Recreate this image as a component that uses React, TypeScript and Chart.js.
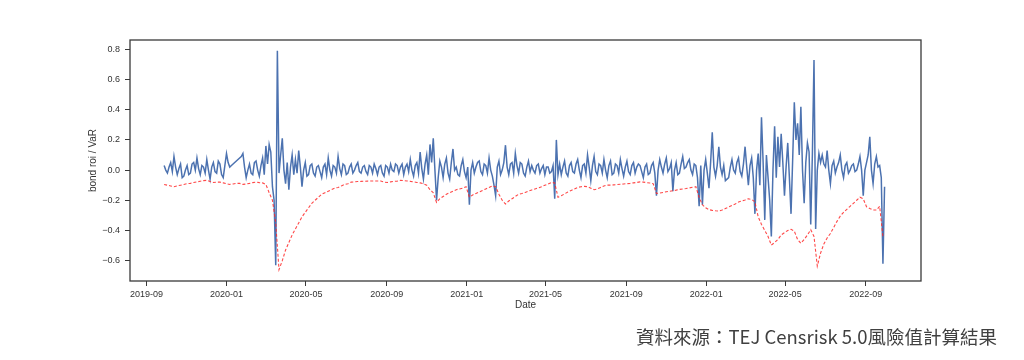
import React, { useEffect, useRef } from 'react';
import { Chart, registerables } from 'chart.js';

Chart.register(...registerables);

// ---- data ----
const startDate = '2019-09-28';
const roiStepDays = 2.5;
const varStepDays = 5;
const axisMinDate = '2019-08-07';
const axisMaxDate = '2022-11-24';
const xTickLabels = ['2019-09', '2020-01', '2020-05', '2020-09', '2021-01', '2021-05', '2021-09', '2022-01', '2022-05', '2022-09'];
const yTickValues = [-0.6, -0.4, -0.2, 0, 0.2, 0.4, 0.6, 0.8];

const bondRoi = [
  0.03, 0.0, -0.02, 0.02, 0.05, -0.01, 0.09, 0.02, -0.03, 0.01, 0.04, -0.05, -0.04, 0.0, 0.03, -0.03, -0.02, 0.04, 0.05, 0.0,
  0.08, 0.01, -0.03, 0.03, 0.02, -0.02, 0.07, 0.0, -0.06, 0.02, 0.05, -0.01, -0.02, 0.06, 0.04, -0.03, -0.05, 0.03, 0.11, 0.05,
  0.02, 0.03, 0.04, 0.05, 0.06, 0.07, 0.08, 0.09, 0.11, 0.02, -0.05, 0.0, 0.04, -0.02, -0.03, 0.05, 0.06, 0.0, -0.04, 0.03,
  0.08, -0.03, 0.16, 0.04, 0.17, 0.12, -0.11, -0.2, -0.63, 0.79, -0.02, 0.1, 0.21, 0.0, -0.09, 0.05, -0.13, 0.02, 0.1, -0.03,
  0.07, -0.02, 0.13, 0.02, -0.11, 0.0, 0.05, -0.04, -0.03, 0.03, 0.04, -0.02, -0.04, 0.02, 0.03, -0.01, -0.05, 0.02, 0.04, -0.03,
  0.08, 0.0, -0.04, 0.03, 0.02, -0.02, 0.09, 0.01, -0.03, 0.04, 0.03, -0.03, -0.02, 0.02, 0.04, -0.02, 0.0, 0.03, 0.05, -0.01,
  -0.02, 0.02, 0.03, -0.01, -0.03, 0.03, 0.02, -0.02, 0.04, 0.01, -0.03, 0.02, 0.03, -0.02, -0.04, 0.03, 0.02, -0.02, 0.04, 0.0,
  -0.01, 0.04, 0.03, -0.02, 0.02, 0.04, -0.03, 0.02, 0.04, -0.01, 0.07, 0.0, -0.04, 0.03, 0.05, -0.02, 0.12, 0.01, -0.06, 0.04,
  0.1, -0.03, 0.17, 0.05, 0.21, 0.0, -0.2, -0.05, 0.06, 0.02, -0.05, 0.04, 0.08, -0.02, -0.06, 0.05, 0.14, 0.0, 0.02, -0.03,
  -0.04, 0.03, 0.07, -0.01, -0.05, 0.02, -0.23, 0.0, 0.05, -0.02, 0.02, 0.05, 0.06, -0.01, -0.03, 0.04, 0.03, -0.02, 0.08, 0.0,
  -0.04, -0.1, -0.17, 0.02, 0.06, -0.03, 0.0, 0.05, 0.165, 0.02, -0.03, 0.04, 0.05, -0.02, 0.11, 0.03, -0.02, 0.05, 0.04, -0.02,
  -0.04, 0.02, 0.06, -0.01, 0.03, 0.0, -0.02, 0.03, 0.04, -0.02, 0.01, 0.03, -0.03, 0.02, 0.02, -0.02, -0.01, 0.03, -0.19, 0.2,
  -0.03, 0.04, -0.03, 0.02, 0.06, -0.02, -0.04, 0.03, 0.05, -0.01, -0.02, 0.04, 0.07, 0.0, -0.05, 0.03, 0.04, -0.02, 0.1, 0.02,
  -0.07, 0.03, 0.09, -0.01, -0.03, 0.04, 0.03, -0.02, 0.07, 0.0, -0.05, 0.03, 0.06, -0.03, -0.02, 0.04, 0.03, -0.02, 0.07, 0.01,
  -0.04, 0.02, 0.06, -0.01, -0.03, 0.03, 0.05, -0.02, 0.02, 0.04, 0.03, -0.01, -0.05, 0.02, 0.04, -0.03, -0.02, 0.03, 0.05, -0.02,
  -0.17, 0.0, 0.07, 0.02, -0.02, 0.04, 0.08, -0.01, 0.01, 0.05, -0.14, 0.0, 0.05, -0.03, -0.02, 0.04, 0.09, 0.01, 0.02, 0.05,
  0.07, 0.0, -0.03, 0.04, 0.03, -0.05, -0.24, 0.03, -0.23, 0.0, 0.07, -0.02, -0.12, 0.05, 0.25, 0.02, -0.04, 0.03, 0.155, 0.02,
  -0.03, 0.03, -0.07, -0.06, -0.05, 0.02, 0.07, 0.0, -0.02, 0.05, 0.08, -0.01, -0.04, 0.04, 0.155, 0.02, -0.1, 0.03, 0.08, -0.05,
  -0.29, 0.0, 0.11, -0.1, 0.35, 0.05, -0.33, 0.1, -0.05, -0.2, -0.44, 0.0, 0.29, -0.05, 0.22, 0.02, 0.24, 0.05, -0.17, 0.02,
  0.18, -0.05, -0.29, 0.07, 0.45, 0.2, 0.31, 0.1, 0.42, 0.0, -0.22, 0.05, 0.18, 0.12, -0.36, 0.1, 0.73, -0.39, 0.0, 0.11,
  0.05, 0.1, 0.04, 0.02, 0.13, 0.0, -0.09, 0.03, 0.06, -0.02, 0.02, 0.05, 0.1, 0.0, -0.05, 0.03, 0.05, -0.02, 0.0, 0.03,
  0.04, -0.01, 0.0, 0.04, 0.09, 0.0, -0.17, 0.0, 0.05, 0.1, 0.22, 0.0, -0.09, 0.04, 0.09, 0.02, 0.03, -0.05, -0.62, -0.11,
];

const varValues = [
  -0.095, -0.1, -0.105, -0.11, -0.105, -0.1, -0.095, -0.09, -0.088, -0.082,
  -0.078, -0.074, -0.07, -0.068, -0.075, -0.082, -0.08, -0.08, -0.085, -0.09,
  -0.095, -0.092, -0.088, -0.088, -0.095, -0.092, -0.088, -0.083, -0.08, -0.083,
  -0.085, -0.095, -0.15, -0.2, -0.35, -0.66, -0.6, -0.53, -0.48, -0.43,
  -0.39, -0.35, -0.31, -0.28, -0.25, -0.22, -0.2, -0.18, -0.16, -0.15,
  -0.14, -0.13, -0.12, -0.115, -0.105, -0.095, -0.09, -0.08, -0.078, -0.076,
  -0.075, -0.074, -0.073, -0.072, -0.072, -0.072, -0.072, -0.08, -0.082, -0.078,
  -0.075, -0.073, -0.068, -0.07, -0.072, -0.075, -0.078, -0.082, -0.085, -0.09,
  -0.1, -0.13, -0.15, -0.215, -0.19, -0.175, -0.16, -0.15, -0.14, -0.13,
  -0.125, -0.12, -0.11, -0.18, -0.165, -0.155, -0.145, -0.135, -0.125, -0.115,
  -0.105, -0.11, -0.16, -0.2, -0.225, -0.205, -0.19, -0.175, -0.16, -0.155,
  -0.148, -0.14, -0.132, -0.125, -0.118, -0.11, -0.1, -0.092, -0.082, -0.085,
  -0.18, -0.17, -0.158, -0.145, -0.135, -0.125, -0.115, -0.11, -0.108, -0.11,
  -0.12, -0.13, -0.125, -0.115, -0.105, -0.1, -0.1, -0.098, -0.096, -0.094,
  -0.092, -0.09, -0.088, -0.085, -0.082, -0.078, -0.08, -0.083, -0.086, -0.09,
  -0.155, -0.152, -0.148, -0.144, -0.14, -0.137, -0.133, -0.128, -0.125, -0.122,
  -0.118, -0.114, -0.11, -0.18, -0.23, -0.25, -0.262, -0.267, -0.27, -0.272,
  -0.265, -0.255, -0.245, -0.235, -0.225, -0.212, -0.205, -0.198, -0.19, -0.195,
  -0.21, -0.31, -0.36, -0.4, -0.44, -0.497, -0.48, -0.46, -0.43, -0.415,
  -0.4, -0.393, -0.405, -0.46, -0.485, -0.46, -0.43, -0.395, -0.44, -0.636,
  -0.55, -0.49, -0.45, -0.42, -0.38, -0.34, -0.305, -0.28, -0.26, -0.24,
  -0.22, -0.2, -0.18, -0.19, -0.243, -0.255, -0.265, -0.265, -0.24, -0.44,
];

const yMin = -0.735;
const yMax = 0.862;

const captionText = '資料來源：TEJ Censrisk 5.0風險值計算結果';

// ---- helpers ----
function dayOf(s: string): number {
  const [y, m, d] = s.split('-').map(Number);
  return Date.UTC(y, m - 1, d || 1) / 86400000;
}

const framePlugin = {
  id: 'frameBox',
  afterDraw(chart: any) {
    const { ctx, chartArea } = chart;
    const { left, top, right, bottom } = chartArea;
    ctx.save();
    ctx.strokeStyle = '#3a3a3a';
    ctx.lineWidth = 1.3;
    ctx.strokeRect(left, top, right - left, bottom - top);
    ctx.restore();
  },
};

export default function App() {
  const canvasRef = useRef<HTMLCanvasElement | null>(null);

  useEffect(() => {
    if (!canvasRef.current) return;
    const start = dayOf(startDate);
    const roiPoints = bondRoi.map((v, i) => ({ x: start + i * roiStepDays, y: v }));
    const varPoints = varValues.map((v, i) => ({ x: start + i * varStepDays, y: v }));
    const tickFont = { family: '"Liberation Sans", Arial, sans-serif', size: 9 };
    const titleFont = { family: '"Liberation Sans", Arial, sans-serif', size: 10 };

    const chart = new Chart(canvasRef.current, {
      type: 'line',
      data: {
        datasets: [
          {
            label: 'bond roi',
            data: roiPoints,
            borderColor: '#4C72B0',
            borderWidth: 1.5,
            pointRadius: 0,
            tension: 0,
            order: 2,
          },
          {
            label: 'VaR',
            data: varPoints,
            borderColor: 'rgba(255, 40, 40, 0.85)',
            borderWidth: 1.1,
            borderDash: [3, 2],
            pointRadius: 0,
            tension: 0,
            order: 1,
          },
        ],
      },
      options: {
        responsive: false,
        animation: false,
        devicePixelRatio: 1,
        layout: { padding: { left: 80, right: 103, top: 40, bottom: 45 } },
        plugins: {
          legend: { display: false },
          tooltip: { enabled: false },
        },
        scales: {
          x: {
            type: 'linear',
            min: dayOf(axisMinDate),
            max: dayOf(axisMaxDate),
            afterBuildTicks: (scale: any) => {
              scale.ticks = xTickLabels.map((l) => ({ value: dayOf(l + '-01') }));
            },
            afterFit: (scale: any) => {
              scale.height = 34;
            },
            ticks: {
              autoSkip: false,
              maxRotation: 0,
              padding: 3,
              color: '#333333',
              font: tickFont,
              callback: (_v: any, i: number) => xTickLabels[i],
            },
            grid: {
              display: true,
              drawOnChartArea: false,
              drawTicks: true,
              tickLength: 5,
              color: '#3a3a3a',
              lineWidth: 1,
            },
            border: { display: false },
            title: {
              display: true,
              text: 'Date',
              color: '#333333',
              font: titleFont,
              padding: { top: 0, bottom: 4 },
            },
          },
          y: {
            type: 'linear',
            min: yMin,
            max: yMax,
            afterBuildTicks: (scale: any) => {
              scale.ticks = yTickValues.map((v) => ({ value: v }));
            },
            afterFit: (scale: any) => {
              scale.width = 50;
            },
            ticks: {
              padding: 5,
              color: '#333333',
              font: tickFont,
              callback: (v: any) => {
                const n = Number(v);
                const s = Math.abs(n).toFixed(1);
                return n < -1e-9 ? '\u2212' + s : s;
              },
            },
            grid: {
              display: true,
              drawOnChartArea: false,
              drawTicks: true,
              tickLength: 5,
              color: '#3a3a3a',
              lineWidth: 1,
            },
            border: { display: false },
            title: {
              display: true,
              text: 'bond roi / VaR',
              color: '#333333',
              font: titleFont,
              padding: { top: 7, bottom: 0 },
            },
          },
        },
      },
      plugins: [framePlugin],
    } as any);

    return () => {
      chart.destroy();
    };
  }, []);

  return (
    <div style={{ position: 'absolute', left: 0, top: 0, width: 1024, height: 360, background: '#ffffff' }}>
      <canvas ref={canvasRef} width={1024} height={360} style={{ display: 'block', width: 1024, height: 360 }} />
      <div
        style={{
          position: 'absolute',
          left: 0,
          top: 324,
          width: 997,
          textAlign: 'right',
          fontFamily: '"Noto Sans CJK TC", "Noto Sans", sans-serif',
          fontSize: 18.5,
          lineHeight: '24px',
          color: '#404040',
          whiteSpace: 'nowrap',
        }}
      >
        {captionText}
      </div>
    </div>
  );
}
